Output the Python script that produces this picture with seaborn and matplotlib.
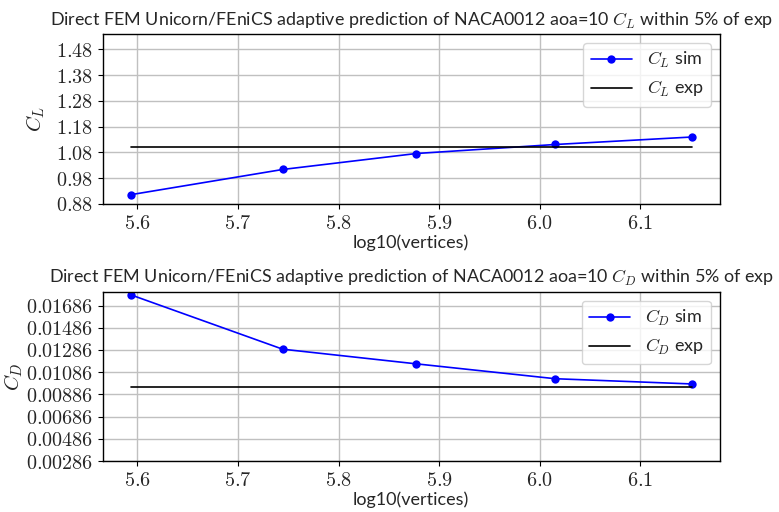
import numpy as np
import pandas as pd
import matplotlib
matplotlib.use("Agg")
import matplotlib.pyplot as plt
import seaborn as sns
from matplotlib.ticker import FuncFormatter

# data
log_vertices = [5.5933, 5.7444, 5.8773, 6.0155, 6.1511]
cl_sim = [0.916, 1.014, 1.076, 1.111, 1.140]
cd_sim = [0.01783, 0.01293, 0.01161, 0.01027, 0.00980]
cl_exp = 1.1
cd_exp = 0.009533
cl_ticks = [0.88, 0.98, 1.08, 1.18, 1.28, 1.38, 1.48]
cd_ticks = [0.00286, 0.00486, 0.00686, 0.00886, 0.01086, 0.01286, 0.01486, 0.01686]

sns.set_style("white")
plt.rcParams['font.family'] = ['Lato', 'DejaVu Sans']
plt.rcParams['mathtext.fontset'] = 'cm'

fig = plt.figure(figsize=(7.79, 5.12), dpi=100)
ax1 = fig.add_axes([0.1318, 0.6016, 0.7922, 0.332])
ax2 = fig.add_axes([0.1318, 0.0996, 0.7922, 0.3307])

def setup(ax, sim, exp, lab, ticks, ylim, fmt, ylab_x):
    df = pd.DataFrame({"x": log_vertices, "sim": sim, "exp": [exp] * len(log_vertices)})
    sns.lineplot(data=df, x="x", y="sim", ax=ax, color="blue", marker="o",
                 markersize=6, markeredgewidth=0, linewidth=1.2,
                 label=f"${lab}$ sim")
    sns.lineplot(data=df, x="x", y="exp", ax=ax, color="black", linewidth=1.2,
                 label=f"${lab}$ exp")
    ax.set_ylim(*ylim)
    ax.set_yticks(ticks)
    ax.set_xticks([5.6, 5.7, 5.8, 5.9, 6.0, 6.1])
    ax.yaxis.set_major_formatter(FuncFormatter(lambda v, p: f"${v:{fmt}}$"))
    ax.xaxis.set_major_formatter(FuncFormatter(lambda v, p: f"${v:.1f}$"))
    ax.tick_params(axis="both", labelsize=14.5, length=3.5, width=0.8, left=True, bottom=True, color="black")
    ax.grid(True, color="#c0c0c0", linewidth=1.0)
    for s in ax.spines.values():
        s.set_color("black")
        s.set_linewidth(1.0)
    ax.set_xlabel("log10(vertices)", fontsize=13, labelpad=2)
    ax.set_ylabel(f"${lab}$", fontsize=15)
    ax.yaxis.set_label_coords(ylab_x, 0.5)
    ax.set_title(f"Direct FEM Unicorn/FEniCS adaptive prediction of NACA0012 aoa=10 ${lab}$ within 5% of exp",
                 fontsize=12.9, pad=6)
    ax.legend(loc="upper right", fontsize=13, framealpha=0.8, handlelength=2.3)

setup(ax1, cl_sim, cl_exp, "C_L", cl_ticks, (0.88, 1.54), ".2f", -0.09)
setup(ax2, cd_sim, cd_exp, "C_D", cd_ticks, (0.00286, 0.01811), ".5f", -0.126)

fig.savefig("out.png", dpi=100)
